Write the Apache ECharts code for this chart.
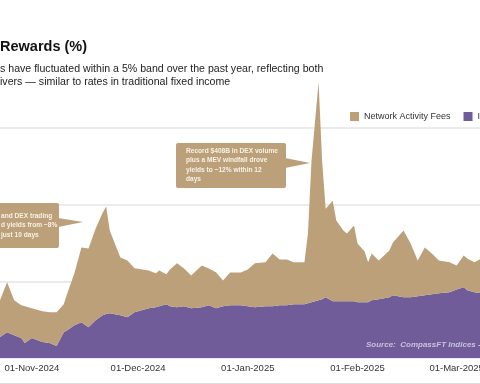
<!DOCTYPE html>
<html><head><meta charset="utf-8">
<script src="https://cdn.jsdelivr.net/npm/echarts@6/dist/echarts.min.js"></script>
<style>html,body{margin:0;padding:0;background:#fff}#c{width:480px;height:384px}</style>
</head><body><div id="c"></div>
<script>
const dates = ['2024-10-22','2024-10-23','2024-10-25','2024-10-27','2024-10-29','2024-10-30','2024-11-01','2024-11-04','2024-11-06','2024-11-08','2024-11-10','2024-11-11','2024-11-13','2024-11-15','2024-11-17','2024-11-19','2024-11-21','2024-11-22','2024-11-23','2024-11-26','2024-11-28','2024-11-30','2024-12-04','2024-12-06','2024-12-07','2024-12-09','2024-12-10','2024-12-12','2024-12-14','2024-12-16','2024-12-19','2024-12-21','2024-12-23','2024-12-25','2024-12-27','2024-12-30','2025-01-01','2025-01-03','2025-01-06','2025-01-08','2025-01-10','2025-01-12','2025-01-14','2025-01-17','2025-01-18','2025-01-19','2025-01-21','2025-01-22','2025-01-23','2025-01-25','2025-01-26','2025-01-28','2025-01-29','2025-01-31','2025-02-01','2025-02-03','2025-02-04','2025-02-05','2025-02-07','2025-02-10','2025-02-11','2025-02-14','2025-02-16','2025-02-18','2025-02-20','2025-02-22','2025-02-24','2025-02-27','2025-03-01','2025-03-03','2025-03-04','2025-03-06','2025-03-08'];
const baseRewards = [1.05,1.09,1.35,1.19,1.04,0.78,1.04,0.83,0.78,0.62,1.35,1.45,1.71,1.87,1.61,1.97,2.23,2.29,2.34,2.23,2.13,2.39,2.60,2.65,2.70,2.81,2.70,2.65,2.70,2.60,2.65,2.75,2.60,2.70,2.75,2.75,2.70,2.65,2.70,2.70,2.75,2.75,2.81,2.81,2.86,2.91,3.01,3.06,3.17,2.96,2.96,2.96,2.96,2.96,2.91,2.91,2.91,3.01,3.06,3.17,3.27,3.17,3.17,3.22,3.27,3.32,3.38,3.43,3.58,3.69,3.53,3.43,3.38];
const networkFees = [1.85,1.92,2.60,1.82,1.71,1.92,1.56,1.61,1.61,1.77,1.45,1.92,2.70,3.90,4.10,4.78,5.35,5.61,4.31,3.01,2.96,2.29,1.97,1.77,1.87,1.56,1.92,2.29,1.97,1.71,2.18,1.92,1.87,1.35,1.71,1.71,1.92,2.29,2.29,2.75,2.39,2.39,2.18,2.18,3.64,7.38,11.38,7.22,4.62,5.25,4.21,3.69,3.53,3.95,3.06,2.65,2.08,2.44,2.03,2.44,2.75,3.48,2.81,1.87,2.49,2.13,1.71,1.56,1.25,1.66,1.66,1.56,1.82];
const tickDates = ['2024-11-01','2024-12-01','2025-01-01','2025-02-01','2025-03-01'];
const tickLabels = ['01-Nov-2024','01-Dec-2024','01-Jan-2025','01-Feb-2025','01-Mar-2025'];
const yMin = 0, yMax = 12, yStep = 4;
const seriesNames = ['Inflationary Rewards','Network Activity Fees'];

function toTs(s){const p=s.split('-').map(Number);return new Date(p[0],p[1]-1,p[2]).getTime();}
const labelMap = {};
tickDates.forEach((d,i)=>{labelMap[toTs(d)] = tickLabels[i];});

const GOLD = '#bba07a', PURPLE = '#6f5c99';
const chart = echarts.init(document.getElementById('c'), null, {renderer:'canvas'});
const FONT = 'Arial, "Liberation Sans", Helvetica, sans-serif';
const xMin = toTs('2024-10-23'), xMax = toTs('2025-03-07')+14.4*3600e3;
chart.setOption({
  animation:false,
  grid:{left:0,right:0,top:128,bottom:26,containLabel:false,outerBoundsMode:'none'},
  legend:{left:345,top:107,width:600,itemWidth:9,itemHeight:9,itemGap:13,icon:'rect',
    data:[seriesNames[1],seriesNames[0]],
    textStyle:{fontSize:9,color:'#333',fontFamily:FONT}},
  xAxis:[
    {type:'time',min:xMin,max:xMax,
     axisLine:{show:false},axisTick:{show:false},splitLine:{show:false},axisLabel:{show:false}},
    {type:'value',min:xMin,max:xMax,position:'bottom',
     axisLine:{show:false},axisTick:{show:false},splitLine:{show:false},
     axisLabel:{customValues:tickDates.map(toTs),formatter:v=>labelMap[v]||'',
       fontSize:9.5,color:'#333',fontFamily:FONT,margin:5}}
  ],
  yAxis:{type:'value',min:yMin,max:yMax,interval:yStep,
    axisLabel:{show:false},axisLine:{show:false},axisTick:{show:false},
    splitLine:{lineStyle:{color:'#e4e4e4',width:1.5}}},
  series:[
    {name:seriesNames[0],type:'line',stack:'total',symbol:'none',clip:false,xAxisIndex:0,
     data:dates.map((d,i)=>[d,baseRewards[i]]),
     lineStyle:{width:0},itemStyle:{color:PURPLE},areaStyle:{color:PURPLE,opacity:1}},
    {name:seriesNames[1],type:'line',stack:'total',symbol:'none',clip:false,xAxisIndex:0,
     data:dates.map((d,i)=>[d,networkFees[i]]),
     lineStyle:{width:0},itemStyle:{color:GOLD},areaStyle:{color:GOLD,opacity:1}}
  ],
  graphic:[
    {type:'text',z:100,x:0,y:47,style:{text:'Rewards (%)',font:'bold 14.5px '+FONT,fill:'#111',verticalAlign:'middle'}},
    {type:'text',z:100,x:0,y:69,style:{text:'s have fluctuated within a 5% band over the past year, reflecting both',font:'10.6px '+FONT,fill:'#222',verticalAlign:'middle'}},
    {type:'text',z:100,x:0,y:82,style:{text:'ivers \u2014 similar to rates in traditional fixed income',font:'10.6px '+FONT,fill:'#222',verticalAlign:'middle'}},
    {type:'rect',z:100,shape:{x:176,y:143,width:110,height:45,r:2},style:{fill:GOLD}},
    {type:'polygon',z:100,shape:{points:[[285,158],[310,163],[285,168]]},style:{fill:GOLD}},
    {type:'text',z:101,x:186,y:146,style:{text:'Record $408B in DEX volume\nplus a MEV windfall drove\nyields to ~12% within 12\ndays',font:'bold 6.6px '+FONT,lineHeight:9.6,fill:'#f7f1e6'}},
    {type:'rect',z:100,shape:{x:-60,y:203,width:119,height:45,r:2},style:{fill:GOLD}},
    {type:'polygon',z:100,shape:{points:[[58,218],[83,222],[58,227]]},style:{fill:GOLD}},
    {type:'text',z:101,x:1,y:211,style:{text:'and DEX trading\nd yields from ~8%\njust 10 days',font:'bold 6.6px '+FONT,lineHeight:9.6,fill:'#f7f1e6'}},
    {type:'text',z:100,x:366,y:345,style:{text:'Source:  CompassFT Indices - Solana',font:'italic bold 8px '+FONT,fill:'#c9c1dd',verticalAlign:'middle'}},
    {type:'line',z:100,shape:{x1:0,y1:383.5,x2:480,y2:383.5},style:{stroke:'#dcdcdc',lineWidth:1}}
  ]
});
</script></body></html>
